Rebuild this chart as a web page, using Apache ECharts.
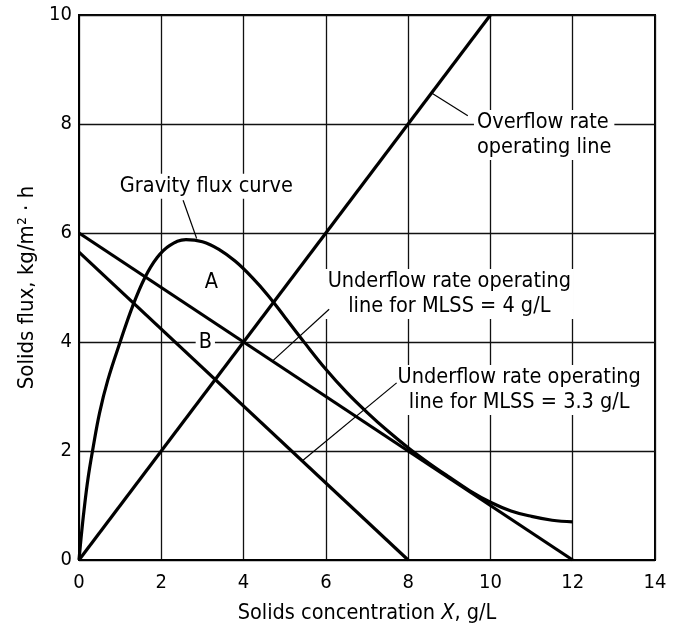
<!DOCTYPE html>
<html>
<head>
<meta charset="utf-8">
<script src="https://cdn.jsdelivr.net/npm/echarts@6/dist/echarts.min.js"></script>
<style>
  html, body { margin: 0; padding: 0; background: #fff; }
  #chart { width: 677px; height: 629px; }
</style>
</head>
<body>
<div id="chart"></div>
<script>
// ---- data ----
const xTicks = [0, 2, 4, 6, 8, 10, 12, 14];
const yTicks = [0, 2, 4, 6, 8, 10];

const overflowX = [0, 10];
const overflowY = [0, 10];

const under4X = [0, 12];
const under4Y = [6, 0];

const under33X = [0, 8];
const under33Y = [5.65, 0];

const gravityX = [0, 0.05, 0.12, 0.22, 0.34, 0.5, 0.7, 1.0, 1.3, 1.6, 1.9, 2.2, 2.6, 3.0, 3.4, 3.8, 4.2, 4.6, 5.0, 5.5, 6.0, 6.5, 7.0, 7.5, 8.0, 8.5, 9.0, 9.5, 10.0, 10.5, 11.0, 11.5, 12.0];
const gravityY = [0, 0.4, 0.9, 1.5, 2.05, 2.7, 3.3, 4.0, 4.65, 5.18, 5.55, 5.77, 5.88, 5.84, 5.70, 5.48, 5.19, 4.85, 4.46, 3.97, 3.5, 3.08, 2.71, 2.37, 2.06, 1.78, 1.52, 1.27, 1.06, 0.9, 0.8, 0.73, 0.7];

// annotation texts and their anchor points (data coordinates)
const noteTexts = ['Gravity flux curve', 'Overflow rate\noperating line', 'A', 'B',
  'Underflow rate operating\nline for MLSS = 4 g/L', 'Underflow rate operating\nline for MLSS = 3.3 g/L'];
const noteX = [0.92, 9.6, 3.22, 3.07, 9.0, 10.7];
const noteY = [6.86, 7.8, 5.09, 4.0, 4.88, 3.12];
const noteAlign = ['left', 'left', 'center', 'center', 'center', 'center'];

// leader lines: [x0, y0, x1, y1]
const leaders = [
  [2.53, 6.6, 2.86, 5.9],
  [8.57, 8.57, 9.45, 8.15],
  [6.08, 4.6, 4.7, 3.65],
  [7.72, 3.25, 5.43, 1.82]
];

const FONT = "'Liberation Sans Narrow', 'DejaVu Sans Condensed', 'Liberation Sans', Arial, sans-serif";

function pairs(xs, ys) { return xs.map((x, i) => [x, ys[i]]); }

const chart = echarts.init(document.getElementById('chart'), null, { renderer: 'canvas' });

const thick = { color: '#000', width: 3.2 };

const series = [
  { type: 'line', data: pairs(overflowX, overflowY), showSymbol: false, lineStyle: thick, z: 5, silent: true },
  { type: 'line', data: pairs(under4X, under4Y), showSymbol: false, lineStyle: thick, z: 5, silent: true },
  { type: 'line', data: pairs(under33X, under33Y), showSymbol: false, lineStyle: thick, z: 5, silent: true },
  { type: 'line', data: pairs(gravityX, gravityY), showSymbol: false, smooth: 0.4, lineStyle: thick, z: 5, silent: true }
];

leaders.forEach(l => {
  series.push({ type: 'line', data: [[l[0], l[1]], [l[2], l[3]]], showSymbol: false,
    lineStyle: { color: '#000', width: 1.2 }, z: 4, silent: true });
});

series.push({
  type: 'scatter', symbolSize: 0, z: 3, silent: true,
  itemStyle: { opacity: 1 },
  data: noteTexts.map((t, i) => ({
    value: [noteX[i], noteY[i]],
    label: { align: noteAlign[i] }
  })),
  label: {
    show: true, position: 'inside',
    formatter: p => noteTexts[p.dataIndex],
    color: '#000', opacity: 1, fontFamily: FONT, fontSize: 21.5, lineHeight: 25,
    backgroundColor: '#fff', padding: [0, 3],
    verticalAlign: 'middle'
  }
});

chart.setOption({
  animation: false,
  backgroundColor: '#fff',
  grid: { left: 79, right: 22, top: 15, bottom: 66, show: true, borderColor: '#000', borderWidth: 2 },
  xAxis: {
    type: 'value', min: 0, max: 14, interval: 2,
    axisLine: { show: true, lineStyle: { color: '#000', width: 2 } },
    axisTick: { show: false },
    splitLine: { show: true, lineStyle: { color: '#111', width: 1.3 } },
    axisLabel: { color: '#000', fontFamily: FONT, fontSize: 20, margin: 13,
      formatter: v => xTicks.includes(v) ? String(v) : '' },
    name: 'Solids concentration {i|X}, g/L',
    nameLocation: 'middle', nameGap: 42,
    nameTextStyle: { color: '#000', fontFamily: FONT, fontSize: 21.5,
      rich: { i: { fontStyle: 'italic', fontFamily: FONT, fontSize: 21.5, color: '#000' } } }
  },
  yAxis: {
    type: 'value', min: 0, max: 10, interval: 2,
    axisLine: { show: true, lineStyle: { color: '#000', width: 2 } },
    axisTick: { show: false },
    splitLine: { show: true, lineStyle: { color: '#111', width: 1.3 } },
    axisLabel: { color: '#000', fontFamily: FONT, fontSize: 20, margin: 7,
      formatter: v => yTicks.includes(v) ? String(v) : '' },
    name: 'Solids flux, kg/m\u00B2 \u00B7 h',
    nameLocation: 'middle', nameGap: 40, nameRotate: 90,
    nameTextStyle: { color: '#000', fontFamily: FONT, fontSize: 22 }
  },
  series: series
});
</script>
</body>
</html>
